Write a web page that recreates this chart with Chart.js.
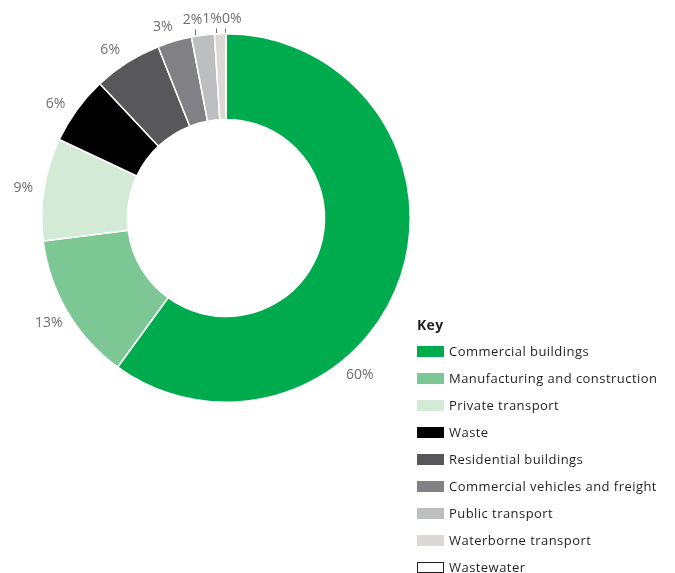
<!DOCTYPE html>
<html>
<head>
<meta charset="utf-8">
<title>Emissions by sector</title>
<script src="https://cdn.jsdelivr.net/npm/chart.js@4.4.1/dist/chart.umd.min.js"></script>
<style>
  html, body { margin: 0; padding: 0; background: #fff; }
  #wrap { position: relative; width: 675px; height: 573px; overflow: hidden; }
  #key {
    position: absolute; left: 417px; top: 314px;
    font-family: 'Open Sans', sans-serif; color: #231f20;
  }
  #key h4 { margin: 0 0 1.5px 0; font-size: 14px; line-height: 22px; font-weight: 700; letter-spacing: 0.3px; }
  #key .row { display: flex; align-items: center; height: 27px; font-size: 13px; letter-spacing: 0.45px; white-space: nowrap; }
  #key .sw { width: 27px; height: 11px; margin-right: 5px; box-sizing: border-box; }
</style>
</head>
<body>
<div id="wrap">
  <canvas id="chart"></canvas>
  <div id="key"><h4>Key</h4></div>
</div>

<script>
'use strict';

/* ---------- data ---------- */
const categories = [
  'Commercial buildings',
  'Manufacturing and construction',
  'Private transport',
  'Waste',
  'Residential buildings',
  'Commercial vehicles and freight',
  'Public transport',
  'Waterborne transport',
  'Wastewater'
];
const shares = [60, 13, 9, 6, 6, 3, 2, 1, 0];   // per cent

/* ---------- styles ---------- */
const sliceColours = ['#00ab4e', '#7dc795', '#d3ead6', '#000000', '#58585a',
                      '#818084', '#bdbec0', '#dcd8d3', '#ffffff'];

/* ----------------------------------------------------------
   Percentage labels outside the ring (with short leaders for
   the thin slices at the top)
   ---------------------------------------------------------- */
const sliceLabels = {
  id: 'sliceLabels',
  afterDatasetsDraw(chart, args, opts) {
    const { ctx } = chart;
    const meta = chart.getDatasetMeta(0);
    ctx.save();
    ctx.font = opts.font;
    ctx.fillStyle = opts.color;
    ctx.textAlign = 'center';
    ctx.textBaseline = 'middle';
    meta.data.forEach((arc, i) => {
      const { x, y, startAngle, endAngle, outerRadius } = arc.getProps(
        ['x', 'y', 'startAngle', 'endAngle', 'outerRadius'], true);
      const ov = opts.overrides[i] || {};
      const a = ov.angle !== undefined ? ov.angle * Math.PI / 180 : (startAngle + endAngle) / 2;
      const r = ov.radius || opts.radius;
      const tx = x + Math.cos(a) * r;
      const ty = y + Math.sin(a) * r;
      ctx.fillText(`${chart.data.datasets[0].data[i]}%`, tx, ty);
      if (ov.leader !== undefined) {
        const la = ov.leader * Math.PI / 180;
        const lx = x + Math.cos(la) * outerRadius;
        const ly = y + Math.sin(la) * outerRadius;
        ctx.strokeStyle = opts.leaderColor;
        ctx.lineWidth = 1;
        ctx.beginPath();
        ctx.moveTo(Math.round(lx) + 0.5, ly - 1);
        ctx.lineTo(Math.round(lx) + 0.5, ty + 9.5);
        ctx.stroke();
      }
    });
    ctx.restore();
  }
};

const chart = new Chart(document.getElementById('chart'), {
  type: 'doughnut',
  data: {
    labels: categories,
    datasets: [{
      data: shares,
      backgroundColor: sliceColours,
      borderColor: '#ffffff',
      borderWidth: 1.5,
      hoverOffset: 0
    }]
  },
  options: {
    responsive: true,
    maintainAspectRatio: false,
    animation: false,
    cutout: '53.5%',
    layout: { padding: { left: 41, top: 33, right: 264, bottom: 170 } },
    plugins: {
      legend: { display: false },
      tooltip: { enabled: false },
      sliceLabels: {
        font: '14px "Open Sans", sans-serif',
        color: '#6d6e71',
        leaderColor: '#6d6e71',
        radius: 206,
        overrides: {
          0: { angle: 49.5 },
          2: { angle: 188.4, radius: 205 },
          3: { angle: 213.7, radius: 205 },
          4: { angle: 235.4, radius: 204 },
          5: { angle: 251.7, radius: 201 },
          6: { angle: 260.4, radius: 201, leader: 260.2 },
          7: { angle: 266.0, radius: 199.5, leader: 267.0 },
          8: { angle: 271.7, radius: 199, leader: 269.7 }
        }
      }
    }
  },
  plugins: [sliceLabels]
});

/* ---------- key (HTML legend built from the chart's labels) ---------- */
const key = document.getElementById('key');
chart.options.plugins.legend.labels.generateLabels(chart).forEach((item, i) => {
  const row = document.createElement('div');
  row.className = 'row';
  const sw = document.createElement('span');
  sw.className = 'sw';
  sw.style.background = sliceColours[i];
  if (sliceColours[i] === '#ffffff') sw.style.border = '1px solid #231f20';
  row.appendChild(sw);
  row.appendChild(document.createTextNode(item.text));
  key.appendChild(row);
});
</script>
</body>
</html>
